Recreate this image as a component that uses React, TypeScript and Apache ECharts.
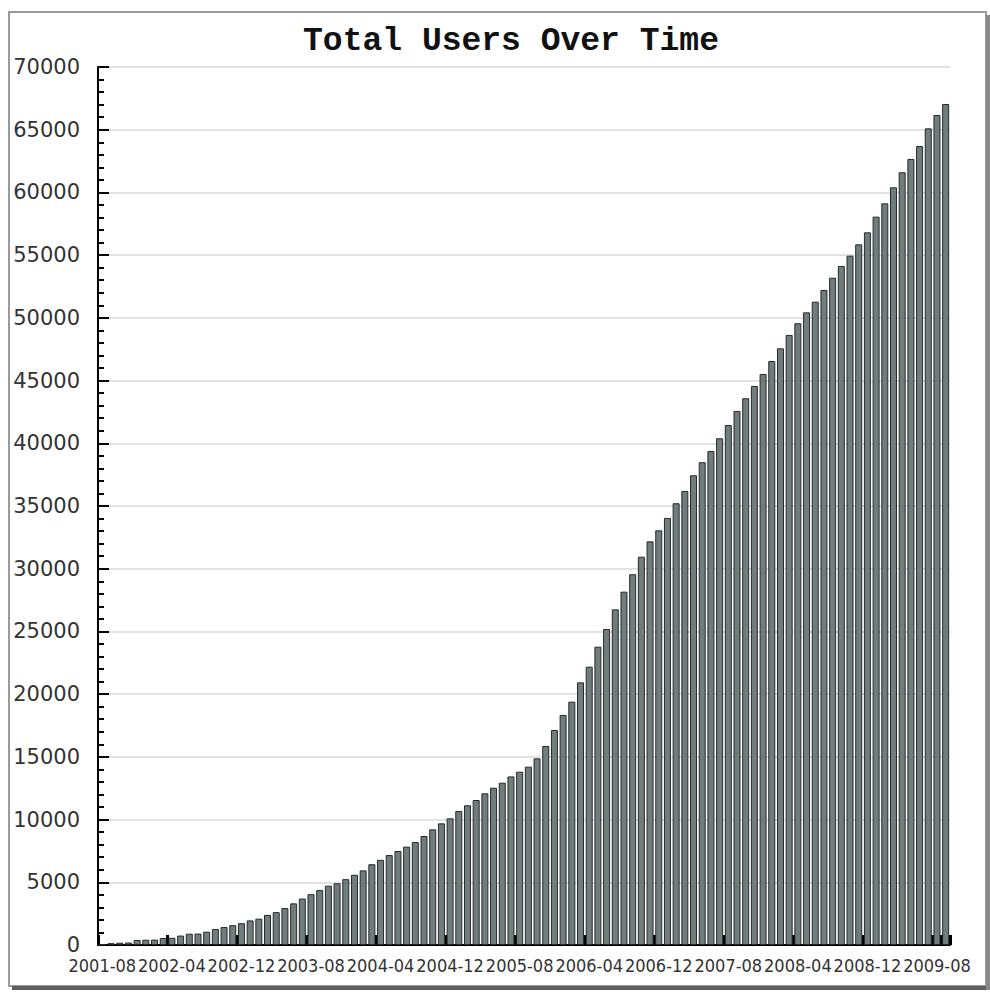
import React, { useEffect, useRef } from "react";
import * as echarts from "echarts";

const TITLE = "Total Users Over Time";

// Months from 2001-08 to 2009-09 (98 monthly bars)
const START_YEAR = 2001;
const START_MONTH = 8;
const MONTH_COUNT = 98;
const months: string[] = [];
for (let i = 0; i < MONTH_COUNT; i++) {
  const m = START_MONTH - 1 + i;
  const y = START_YEAR + Math.floor(m / 12);
  const mm = (m % 12) + 1;
  months.push(`${y}-${mm < 10 ? "0" + mm : mm}`);
}

const totalUsers: number[] = [
  30, 150, 180, 200, 400, 420, 430, 560, 580, 750,
  900, 910, 1060, 1280, 1430, 1580, 1740, 1960, 2100, 2400,
  2620, 2950, 3320, 3700, 4050, 4380, 4730, 4920, 5250, 5600,
  5950, 6440, 6790, 7170, 7490, 7840, 8210, 8690, 9220, 9700,
  10100, 10680, 11140, 11560, 12090, 12540, 12940, 13440, 13820, 14220,
  14880, 15870, 17140, 18340, 19400, 20940, 22190, 23780, 25190, 26760,
  28170, 29560, 30960, 32180, 33060, 34050, 35220, 36200, 37450, 38490,
  39390, 40400, 41460, 42580, 43590, 44570, 45530, 46560, 47570, 48640,
  49570, 50440, 51290, 52220, 53200, 54140, 54960, 55860, 56820, 58070,
  59130, 60410, 61610, 62670, 63700, 65110, 66170, 67050,
];

const Y_MIN = 0;
const Y_MAX = 70000;
const Y_STEP = 5000;
const LABEL_EVERY = 8;
const LAST_LABEL_INDEX = 96;

export default function App() {
  const ref = useRef<HTMLDivElement>(null);
  useEffect(() => {
    if (!ref.current) return;
    const chart = echarts.init(ref.current, undefined, { renderer: "svg" });
    chart.setOption({
      animation: false,
      backgroundColor: "#ffffff",
      title: {
        text: TITLE,
        left: 506,
        top: 20,
        textAlign: "center",
        textStyle: {
          fontFamily: "Liberation Mono",
          fontWeight: "bold",
          fontSize: 33,
          color: "#111",
        },
      },
      graphic: [
        {
          type: "rect",
          z: -1,
          shape: { x: 9, y: 12, width: 977, height: 974 },
          style: { fill: "none", stroke: "#9a9a9a", lineWidth: 2 },
        },
        {
          type: "rect",
          z: -1,
          shape: { x: 12, y: 986, width: 978, height: 4 },
          style: { fill: "#5e5e5e" },
        },
        {
          type: "rect",
          z: -1,
          shape: { x: 986, y: 15, width: 4, height: 975 },
          style: { fill: "#8a8a8a" },
        },
      ],
      grid: { left: 98, right: 40, top: 67, bottom: 47, containLabel: false },
      xAxis: {
        type: "category",
        data: months,
        boundaryGap: true,
        axisLine: { lineStyle: { color: "#000", width: 2 } },
        axisTick: {
          show: true,
          inside: true,
          interval: LABEL_EVERY - 1,
          length: 10,
          lineStyle: { color: "#000", width: 3 },
        },
        axisLabel: {
          interval: (idx: number) =>
            idx % LABEL_EVERY === 0 && idx <= LAST_LABEL_INDEX,
          showMinLabel: true,
          showMaxLabel: true,
          hideOverlap: false,
          margin: 11,
          color: "#333",
          fontFamily: "'DejaVu Sans Condensed', 'DejaVu Sans', sans-serif",
          fontSize: 18,
        },
        splitLine: { show: false },
      },
      yAxis: {
        type: "value",
        min: Y_MIN,
        max: Y_MAX,
        interval: Y_STEP,
        axisLine: { show: true, lineStyle: { color: "#000", width: 2 } },
        axisTick: {
          show: true,
          inside: true,
          length: 11,
          lineStyle: { color: "#000", width: 2 },
        },
        minorTick: {
          show: true,
          splitNumber: 5,
          length: 6,
          lineStyle: { color: "#000", width: 2 },
        },
        axisLabel: {
          margin: 18,
          color: "#333",
          fontFamily: "DejaVu Sans",
          fontSize: 21,
          formatter: (v: number) => String(v),
        },
        splitLine: { show: true, lineStyle: { color: "#e3e3e3", width: 2 } },
      },
      series: [
        {
          type: "bar",
          data: totalUsers,
          barWidth: 7,
          itemStyle: {
            color: "#717d7d",
            borderColor: "#252a2a",
            borderWidth: 1,
          },
        },
      ],
    });
    return () => chart.dispose();
  }, []);
  return (
    <div
      ref={ref}
      style={{ position: "fixed", left: 0, top: 0, width: 990, height: 992 }}
    />
  );
}
